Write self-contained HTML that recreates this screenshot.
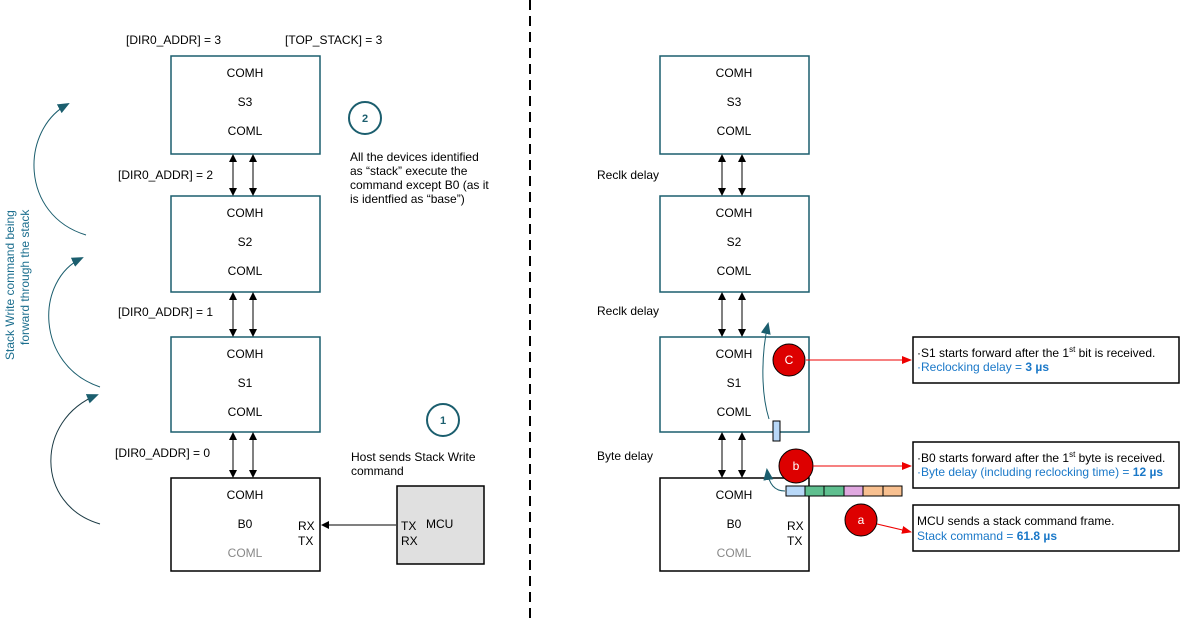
<!DOCTYPE html>
<html><head><style>
body{margin:0;background:#fff}
svg{display:block;font-family:"Liberation Sans",Arial,sans-serif}
</style></head><body>
<svg width="1181" height="620" viewBox="0 0 1181 620" xmlns="http://www.w3.org/2000/svg">
<defs>
<marker id="ab" markerWidth="8" markerHeight="8" refX="7" refY="4" orient="auto-start-reverse" markerUnits="userSpaceOnUse"><path d="M0,0 L8,4 L0,8 z" fill="#000"/></marker>
<marker id="at" markerWidth="12" markerHeight="10" refX="10" refY="5" orient="auto" markerUnits="userSpaceOnUse"><path d="M0,0 L12,5 L0,10 z" fill="#1b5e6e"/></marker>
<marker id="ar" markerWidth="10" markerHeight="8" refX="9" refY="4" orient="auto" markerUnits="userSpaceOnUse"><path d="M0,0 L10,4 L0,8 z" fill="#e00"/></marker>
</defs>
<line x1="530" y1="0" x2="530" y2="620" stroke="#000" stroke-width="2" stroke-dasharray="10,6"/>
<g font-size="12" fill="#000">
<text x="126" y="44">[DIR0_ADDR] = 3</text>
<text x="285" y="44">[TOP_STACK] = 3</text>
<text x="118" y="179">[DIR0_ADDR] = 2</text>
<text x="118" y="316">[DIR0_ADDR] = 1</text>
<text x="115" y="457">[DIR0_ADDR] = 0</text>
</g>
<!-- left boxes -->
<g fill="none" stroke-width="1.5">
<rect x="171" y="56" width="149" height="98" stroke="#1b5e6e"/>
<rect x="171" y="196" width="149" height="96" stroke="#1b5e6e"/>
<rect x="171" y="337" width="149" height="95" stroke="#1b5e6e"/>
<rect x="171" y="478" width="149" height="93" stroke="#000"/>
<rect x="660" y="56" width="149" height="98" stroke="#1b5e6e"/>
<rect x="660" y="196" width="149" height="96" stroke="#1b5e6e"/>
<rect x="660" y="337" width="149" height="95" stroke="#1b5e6e"/>
<rect x="660" y="478" width="149" height="93" stroke="#000"/>
</g>
<g font-size="12" text-anchor="middle">
<text x="245" y="77">COMH</text><text x="245" y="106">S3</text><text x="245" y="135">COML</text>
<text x="245" y="217">COMH</text><text x="245" y="246">S2</text><text x="245" y="275">COML</text>
<text x="245" y="358">COMH</text><text x="245" y="387">S1</text><text x="245" y="416">COML</text>
<text x="245" y="499">COMH</text><text x="245" y="528">B0</text><text x="245" y="557" fill="#888">COML</text>
<text x="734" y="77">COMH</text><text x="734" y="106">S3</text><text x="734" y="135">COML</text>
<text x="734" y="217">COMH</text><text x="734" y="246">S2</text><text x="734" y="275">COML</text>
<text x="734" y="358">COMH</text><text x="734" y="387">S1</text><text x="734" y="416">COML</text>
<text x="734" y="499">COMH</text><text x="734" y="528">B0</text><text x="734" y="557" fill="#888">COML</text>
</g>
<g font-size="12">
<text x="298" y="530">RX</text><text x="298" y="545">TX</text>
<text x="787" y="530">RX</text><text x="787" y="545">TX</text>
</g>
<!-- double arrows -->
<g stroke="#000" stroke-width="1" marker-start="url(#ab)" marker-end="url(#ab)">
<line x1="233" y1="155" x2="233" y2="195"/><line x1="253" y1="155" x2="253" y2="195"/>
<line x1="233" y1="293" x2="233" y2="336"/><line x1="253" y1="293" x2="253" y2="336"/>
<line x1="233" y1="433" x2="233" y2="477"/><line x1="253" y1="433" x2="253" y2="477"/>
<line x1="722" y1="155" x2="722" y2="195"/><line x1="742" y1="155" x2="742" y2="195"/>
<line x1="722" y1="293" x2="722" y2="336"/><line x1="742" y1="293" x2="742" y2="336"/>
<line x1="722" y1="433" x2="722" y2="477"/><line x1="742" y1="433" x2="742" y2="477"/>
</g>
<!-- MCU -->
<rect x="397" y="486" width="87" height="78" fill="#e0e0e0" stroke="#000" stroke-width="1.5"/>
<text x="426" y="528" font-size="12">MCU</text>
<text x="401" y="530" font-size="12">TX</text><text x="401" y="545" font-size="12">RX</text>
<line x1="396" y1="525" x2="322" y2="525" stroke="#000" marker-end="url(#ab)"/>
<!-- numbered circles -->
<circle cx="365" cy="118" r="16" fill="#fff" stroke="#1b5e6e" stroke-width="2"/>
<text x="365" y="122" font-size="11" font-weight="bold" fill="#1b5e6e" text-anchor="middle">2</text>
<circle cx="443" cy="420" r="16" fill="#fff" stroke="#1b5e6e" stroke-width="2"/>
<text x="443" y="424" font-size="11" font-weight="bold" fill="#1b5e6e" text-anchor="middle">1</text>
<g font-size="12">
<text x="350" y="161">All the devices identified</text>
<text x="350" y="175">as “stack” execute the</text>
<text x="350" y="189">command except B0 (as it</text>
<text x="350" y="203">is identfied as “base”)</text>
<text x="351" y="461">Host sends Stack Write</text>
<text x="351" y="475">command</text>
</g>
<!-- left curves -->
<g fill="none" stroke="#1b5e6e" stroke-width="1">
<path d="M86,235 C20,215 20,130 68,104" marker-end="url(#at)"/>
<path d="M100,387 C35,365 35,280 82,258" marker-end="url(#at)"/>
<path d="M100,524 C35,505 35,420 97,395" stroke="#1b3a44" marker-end="url(#at)"/>
</g>
<text transform="translate(14,360) rotate(-90)" font-size="12" fill="#1b6e8e">Stack Write command being</text>
<text transform="translate(29,345) rotate(-90)" font-size="12" fill="#1b6e8e">forward through the stack</text>
<!-- right labels -->
<g font-size="12">
<text x="597" y="179">Reclk delay</text>
<text x="597" y="315">Reclk delay</text>
<text x="597" y="460">Byte delay</text>
</g>
<!-- bars -->
<rect x="773" y="421" width="7" height="20" fill="#b8d8f8" stroke="#000"/>
<g stroke="#000" stroke-width="1">
<rect x="786" y="486" width="19" height="10" fill="#b8d8f8"/>
<rect x="805" y="486" width="19" height="10" fill="#5fbf8f"/>
<rect x="824" y="486" width="20" height="10" fill="#5fbf8f"/>
<rect x="844" y="486" width="19" height="10" fill="#e0a8e0"/>
<rect x="863" y="486" width="20" height="10" fill="#f8c090"/>
<rect x="883" y="486" width="19" height="10" fill="#f8c090"/>
</g>
<path d="M769,419 C760,390 762,350 768,324" fill="none" stroke="#1b5e6e" marker-end="url(#at)"/>
<path d="M785,491 C775,491 769,485 767,470" fill="none" stroke="#1b5e6e" marker-end="url(#at)"/>
<!-- red circles -->
<g stroke="#000" stroke-width="1">
<circle cx="789" cy="360" r="16" fill="#d00"/>
<circle cx="796" cy="466" r="17" fill="#d00"/>
<circle cx="861" cy="520" r="16" fill="#d00"/>
</g>
<g fill="#fff" font-size="12" text-anchor="middle">
<text x="789" y="364">C</text><text x="796" y="470">b</text><text x="861" y="524">a</text>
</g>
<g stroke="#e00" stroke-width="1" marker-end="url(#ar)">
<line x1="806" y1="360" x2="911" y2="360"/>
<line x1="813" y1="466" x2="911" y2="466"/>
<line x1="877" y1="524" x2="911" y2="532"/>
</g>
<g fill="#fff" stroke="#000" stroke-width="1.5">
<rect x="913" y="337" width="266" height="46"/>
<rect x="913" y="442" width="266" height="46"/>
<rect x="913" y="505" width="266" height="46"/>
</g>
<g font-size="12">
<text x="917" y="357">·S1 starts forward after the 1<tspan font-size="8" dy="-5">st</tspan><tspan dy="5"> bit is received.</tspan></text>
<text x="917" y="371" fill="#1a78c8">·Reclocking delay = <tspan font-weight="bold">3 µs</tspan></text>
<text x="917" y="462">·B0 starts forward after the 1<tspan font-size="8" dy="-5">st</tspan><tspan dy="5"> byte is received.</tspan></text>
<text x="917" y="476" fill="#1a78c8">·Byte delay (including reclocking time) = <tspan font-weight="bold">12 µs</tspan></text>
<text x="917" y="525">MCU sends a stack command frame.</text>
<text x="917" y="540" fill="#1a78c8">Stack command = <tspan font-weight="bold">61.8 µs</tspan></text>
</g>
</svg>
</body></html>
